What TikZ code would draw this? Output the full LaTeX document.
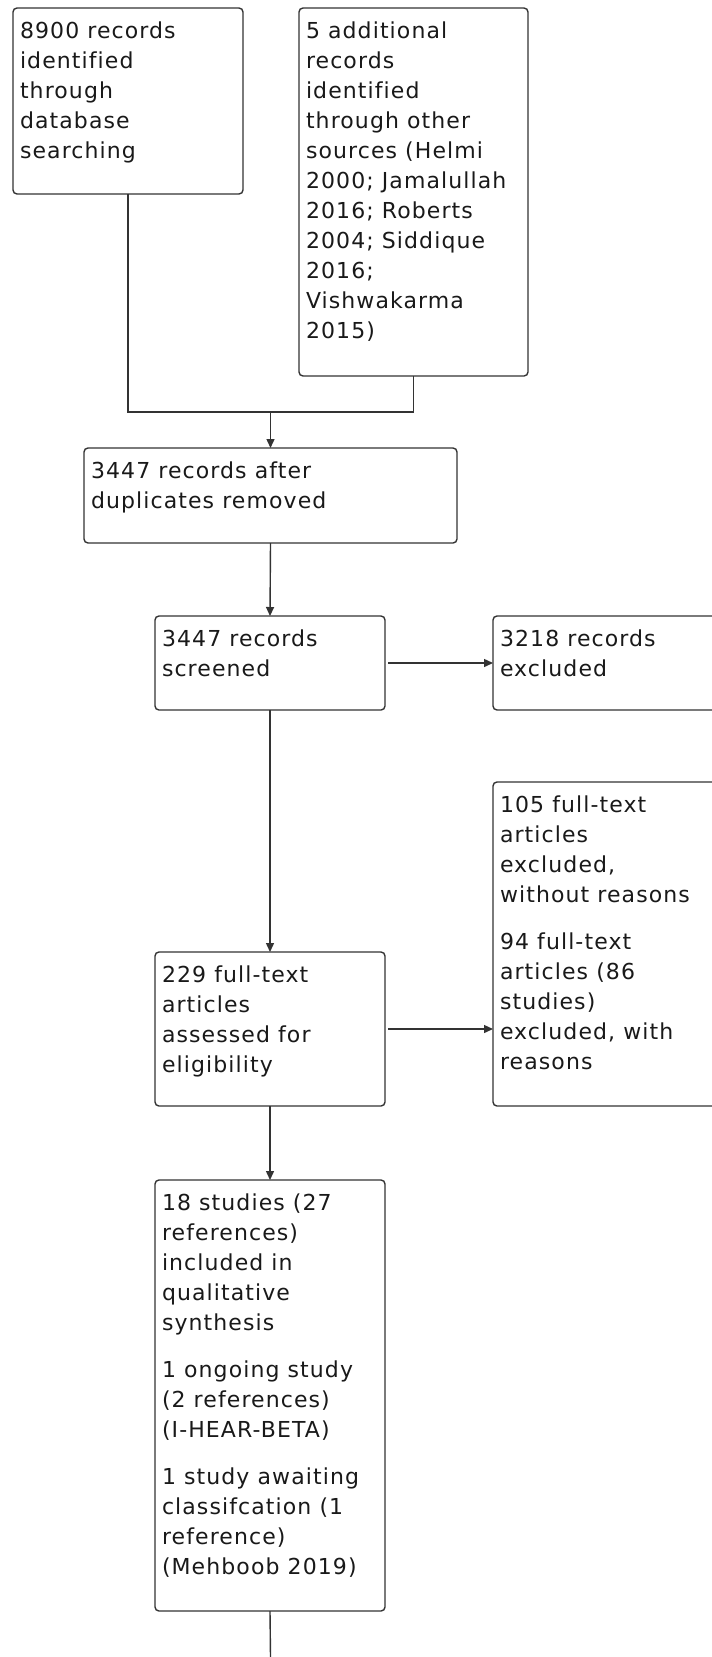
\documentclass[tikz,border=0pt]{standalone}
\usepackage{fontspec}
\setmainfont{DejaVu Sans}[LetterSpace=5,Ligatures=NoCommon]
\usetikzlibrary{arrows.meta}
\newcommand{\firststrut}{\rule{0pt}{30pt}}
\newcommand{\bxtext}[3]{\parbox[t][#2pt][t]{#1pt}{\raggedright\fontsize{22}{30}\selectfont\firststrut#3}}
\tikzset{
  box/.style={draw=black!80, line width=1.4pt, rounded corners=4pt, anchor=north west,
    inner xsep=7pt, inner ysep=0pt, outer sep=0pt, align=left, text=black!90},
  flow/.style={draw=black!80, line width=1.4pt},
  arr/.style={flow, -{Triangle[length=9pt,width=8pt]}},
}
\begin{document}
\begin{tikzpicture}[x=1pt,y=-1pt]
\useasboundingbox (0,0) rectangle (712,1657);
\clip (0,0) rectangle (712,1657);
\node[box] (A) at (13,8) {\bxtext{216}{186}{8900 records\\identified\\through\\database\\searching}};
\node[box] (B) at (299,8) {\bxtext{215}{368}{5 additional\\records\\identified\\through other\\sources (Helmi\\2000; Jamalullah\\2016; Roberts\\2004; Siddique\\2016;\\Vishwakarma\\2015)}};
\node[box] (C) at (84,448) {\bxtext{359}{95}{3447 records after\\duplicates removed}};
\node[box] (D) at (155,616) {\bxtext{216}{94}{3447 records\\screened}};
\node[box] (E) at (493,616) {\bxtext{226}{94}{3218 records\\excluded}};
\node[box] (G) at (493,782) {\bxtext{226}{324}{105 full-text\\articles\\excluded,\\without reasons\\[17pt]94 full-text\\articles (86\\studies)\\excluded, with\\reasons}};
\node[box] (F) at (155,952) {\bxtext{216}{154}{229 full-text\\articles\\assessed for\\eligibility}};
\node[box] (H) at (155,1180) {\bxtext{216}{431}{18 studies (27\\references)\\included in\\qualitative\\synthesis\\[17pt]1 ongoing study\\(2 references)\\(I-HEAR-BETA)\\[17pt]1 study awaiting\\classifcation (1\\reference)\\(Mehboob 2019)}};
\coordinate (J) at (270.5,412);
\coordinate (end) at (270.5,1657);
\draw[flow] (A.south) |- (J) -| (B.south);
\draw[arr] (J) -- (C.north);
\draw[arr] (C.south) -- (D.north);
\draw[arr, shorten <=3pt] (D.east) -- (E.west);
\draw[arr] (D.south) -- (F.north);
\draw[arr, shorten <=3pt] (F.east) -- (F.east -| G.west);
\draw[arr] (F.south) -- (H.north);
\draw[flow] (H.south) -- (end);
\end{tikzpicture}
\end{document}
